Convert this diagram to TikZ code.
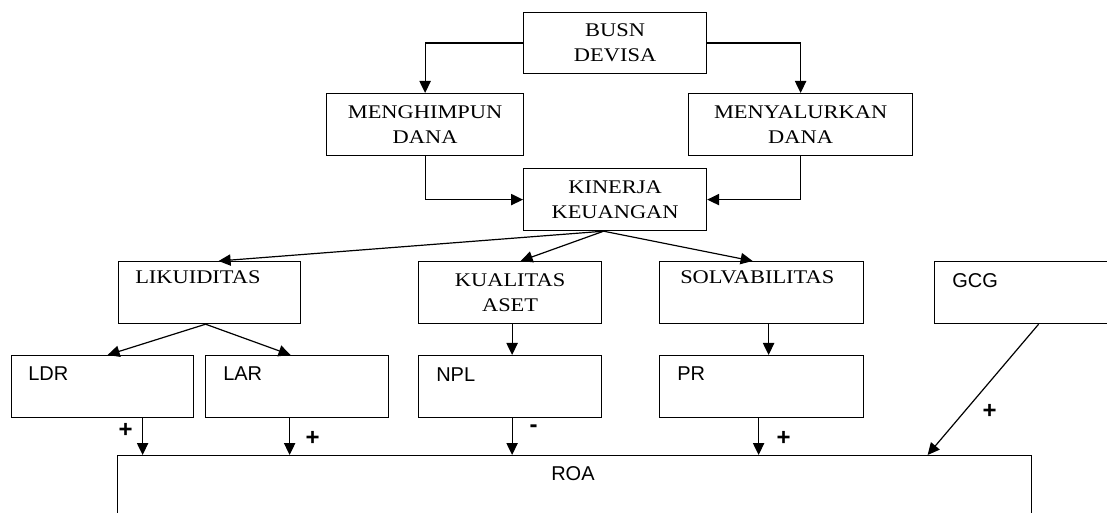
\documentclass[tikz,border=0pt]{standalone}
\usepackage{fontspec}
\usetikzlibrary{arrows.meta}
\newfontfamily\boxserif[FakeStretch=1.16]{Liberation Serif}
\newfontfamily\boxsans{Liberation Sans}

\tikzset{
  box/.style 2 args={draw, line width=0.9pt, anchor=north west, inner sep=0pt,
    minimum width=#1*0.75pt, minimum height=#2*0.75pt},
  sertxt/.style={font=\boxserif\fontsize{14.5}{18.75}\selectfont, align=center},
  sertag/.style={font=\boxserif\fontsize{14.5}{18.75}\selectfont, anchor=base west, inner sep=0pt},
  santag/.style={font=\boxsans\fontsize{15}{17}\selectfont, anchor=base west, inner sep=0pt},
  sign/.style={font=\boxsans\bfseries\fontsize{18}{20}\selectfont, inner sep=0pt},
  arr/.style={line width=0.9pt, -{Triangle[length=9pt,width=8.5pt]}},
}

\begin{document}
\begin{tikzpicture}[x=0.75pt,y=0.75pt,yscale=-1,xscale=1]
\useasboundingbox (0,0) rectangle (1107,513);

% Top boxes
\node[box={183}{61}, sertxt] (bsn) at (523,12) {BUSN\\DEVISA};
\node[box={197}{62}, sertxt] (hmp) at (326,93) {MENGHIMPUN\\DANA};
\node[box={224}{62}, sertxt] (slr) at (688,93) {MENYALURKAN\\DANA};
\node[box={183}{62}, sertxt] (kin) at (523,168) {KINERJA\\KEUANGAN};

% Aspect boxes
\node[box={182}{62}] (liq) at (118,261) {};
\node[box={183}{62}, sertxt] (kua) at (418,261) {KUALITAS\\ASET};
\node[box={204}{62}] (sol) at (659,261) {};
\node[box={208}{62}] (gcg) at (934,261) {};
\node[sertag] (liqtxt) at ([shift={(17,23)}]liq.north west) {LIKUIDITAS};
\node[sertag] (soltxt) at ([shift={(21,23)}]sol.north west) {SOLVABILITAS};
\node[santag] (gcgtxt) at ([shift={(18,26.5)}]gcg.north west) {GCG};

% Ratio boxes
\node[box={182}{62}] (ldr) at (11,355) {};
\node[box={183}{62}] (lar) at (205,355) {};
\node[box={183}{62}] (npl) at (418,355) {};
\node[box={204}{62}] (pr) at (659,355) {};
\node[santag] (ldrtxt) at ([shift={(17,25.5)}]ldr.north west) {LDR};
\node[santag] (lartxt) at ([shift={(18,25.5)}]lar.north west) {LAR};
\node[santag] (npltxt) at ([shift={(18,26.5)}]npl.north west) {NPL};
\node[santag] (prtxt) at ([shift={(18,25.5)}]pr.north west) {PR};

% ROA
\node[box={914}{80}] (roa) at (117,455) {};
\node[santag] (roatxt) at ([shift={(434,25.5)}]roa.north west) {ROA};

% BUSN to kinerja
\draw[arr] (bsn.west) -| (hmp.north);
\draw[arr] (bsn.east) -| (slr.north);
\draw[arr] (hmp.south) |- (kin.west);
\draw[arr] (slr.south) |- (kin.east);

% kinerja to aspects
\coordinate (kinbot) at ([xshift=-8.6pt]kin.south);
\draw[arr] (kinbot) -- ([xshift=6.75pt]liq.north);
\draw[arr] (kinbot) -- ([xshift=7.9pt]kua.north);
\draw[arr] (kinbot) -- ([xshift=-6.75pt]sol.north);

% aspects to ratios
\coordinate (liqbot) at ([xshift=-3pt]liq.south);
\draw[arr] (liqbot) -- ([xshift=3.75pt]ldr.north);
\draw[arr] (liqbot) -- ([xshift=-4.9pt]lar.north);
\draw[arr] ([xshift=1.5pt]kua.south) -- ([xshift=1.5pt]npl.north);
\draw[arr] ([xshift=5.25pt]sol.south) -- ([xshift=5.25pt]pr.north);

% ratios to ROA
\coordinate (ldrout) at ([xshift=30pt]ldr.south);
\coordinate (larout) at ([xshift=-5.6pt]lar.south);
\coordinate (nplout) at ([xshift=1.5pt]npl.south);
\coordinate (prout) at ([xshift=-2.25pt]pr.south);
\draw[arr] (ldrout) -- (ldrout |- roa.north) node[sign, pos=0.34, xshift=-12.75pt] (sgldr) {+};
\draw[arr] (larout) -- (larout |- roa.north) node[sign, pos=0.55, xshift=17.25pt] (sglar) {+};
\draw[arr] (nplout) -- (nplout |- roa.north) node[sign, pos=0.29, xshift=16.1pt] (sgnpl) {-};
\draw[arr] (prout) -- (prout |- roa.north) node[sign, pos=0.55, xshift=18.75pt] (sgpr) {+};
\draw[arr] (gcg.south) -- ([xshift=264.75pt]roa.north) node[sign, pos=0.667, xshift=18.75pt] (sggcg) {+};

\end{tikzpicture}
\end{document}
